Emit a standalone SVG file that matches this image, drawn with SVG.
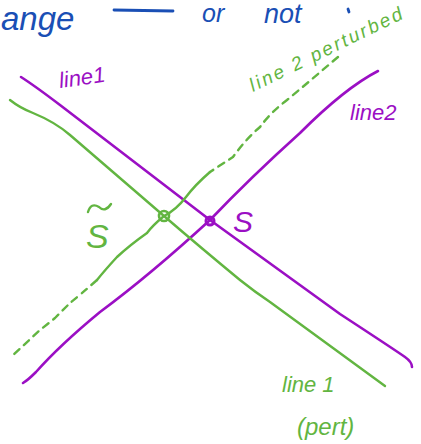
<svg xmlns="http://www.w3.org/2000/svg" width="421" height="444" viewBox="0 0 421 444">
<style>
.p{fill:none;stroke:#9b0fc4;stroke-width:2.6;stroke-linecap:round;stroke-linejoin:round}
.g{fill:none;stroke:#62b541;stroke-width:2.4;stroke-linecap:round;stroke-linejoin:round}
.gd{fill:none;stroke:#62b541;stroke-width:2.4;stroke-linecap:round;stroke-linejoin:round}
.b{fill:none;stroke:#1a4fb5;stroke-width:2.8;stroke-linecap:round}
.tp{font-family:"Liberation Sans",sans-serif;font-style:italic;fill:#9b0fc4}
.tg{font-family:"Liberation Sans",sans-serif;font-style:italic;fill:#62b541}
.tb{font-family:"Liberation Sans",sans-serif;font-style:italic;fill:#1a4fb5}
</style>
<rect width="421" height="444" fill="#fff"/>
<g id="heading">
<text class="tb" x="1" y="30" font-size="33">ange</text>
<path class="b" d="M114 10 L173 11"/>
<text class="tb" x="202" y="22" font-size="25">or</text>
<text class="tb" x="264" y="23" font-size="27">not</text>
<path class="b" d="M348 9 L349 12"/>
</g>
<g id="connectors">
<path id="line1" class="p" d="M21 77 Q35 86 60 105 L210 220 L340 314 Q395 350 405 357 Q412 362 412 367"/>
<path id="line2" class="p" d="M378 71 Q345 88 300 133 Q250 178 210 220 Q150 275 100 312 Q60 345 36 372 Q28 380 23 383"/>
<path id="line1pert" class="g" d="M10 100 Q20 108 33 113 Q55 122 70 135 L164 216 Q200 247 240 280 Q255 292 270 302 L385 386"/>
<path id="line2pert-top" class="gd" stroke-dasharray="7 6" d="M338 57 L305 85 L287 100 Q270 113 260 127 Q245 140 233 157 L210 172"/>
<path id="line2pert-mid" class="gd" d="M210 172 Q195 185 186 197 Q176 210 164 216 Q152 226 147 233 Q130 245 117 257 Q105 270 97 280"/>
<path id="line2pert-bot" class="gd" stroke-dasharray="7 6" d="M97 280 Q80 295 70 303 L55 318 L40 330 L10 358"/>
</g>
<g id="S">
<circle cx="210" cy="221" r="4" fill="none" stroke="#9b0fc4" stroke-width="3"/>
<text class="tp" x="233" y="232" font-size="30">S</text>
</g>
<g id="S-tilde">
<circle cx="164" cy="216" r="5" fill="none" stroke="#62b541" stroke-width="2.6"/>
<text class="tg" x="86" y="248" font-size="34">S</text>
<path class="g" d="M88 212 Q91 202 99 207 Q105 213 111 204"/>
</g>
<g id="labels">
<text class="tp" x="60" y="88" font-size="22" transform="rotate(-8 60 88)">line1</text>
<text class="tp" x="350" y="120" font-size="22">line2</text>
<text class="tg" x="253" y="92" font-size="19" textLength="168" transform="rotate(-26 253 92)">line 2 perturbed</text>
<text class="tg" x="282" y="392" font-size="22">line 1</text>
<text class="tg" x="297" y="435" font-size="24">(pert)</text>
</g>
</svg>
